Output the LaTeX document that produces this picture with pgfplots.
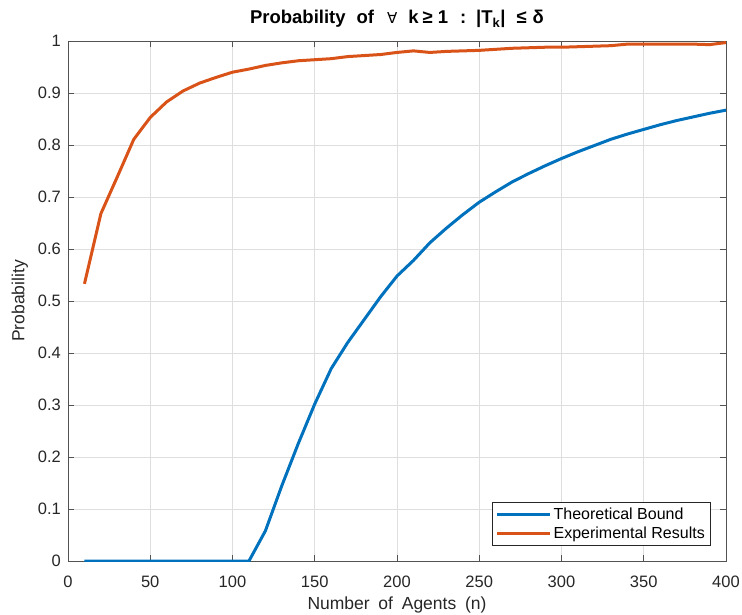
\documentclass[border=0pt]{standalone}
\usepackage{pgfplots}
\pgfplotsset{compat=1.18}
\usepackage{fontspec}
\setmainfont{Liberation Sans}
\newfontfamily\dejavu{DejaVu Sans}

\definecolor{mblue}{rgb}{0,0.447,0.741}
\definecolor{morange}{rgb}{0.85,0.325,0.098}
\definecolor{axgray}{rgb}{0.15,0.15,0.15}

\begin{document}
\begin{tikzpicture}
  \begin{axis}[
      scale only axis,
      width=658pt, height=520pt,
      xmin=0, xmax=400, ymin=0, ymax=1,
      xtick={0,50,...,400},
      ytick={0,0.1,...,1},
      yticklabels={0,0.1,0.2,0.3,0.4,0.5,0.6,0.7,0.8,0.9,1},
      /pgf/number format/assume math mode=true,
      tick label style={font=\fontsize{16.5}{18}\selectfont, text=axgray},
      xticklabel style={anchor=base, yshift=-26pt, inner sep=0pt},
      yticklabel style={anchor=east, xshift=-7pt, inner sep=0pt},
      axis line style={draw=axgray!80, line width=0.6pt},
      tick style={draw=axgray!80, line width=0.6pt},
      tick align=inside,
      major tick length=6pt,
      grid=major,
      major grid style={draw=black!13, line width=0.6pt},
      title={\bfseries Probability\hspace{11pt}of\hspace{13pt}{\dejavu\mdseries\fontsize{15}{16}\selectfont ∀}\hspace{11pt}k\hspace{4pt}≥\hspace{5pt}1\hspace{12pt}:\hspace{10pt}|T\textsubscript{k}|\hspace{11pt}≤\hspace{6pt}δ},
      title style={font=\fontsize{18.5}{20}\selectfont, at={(axis description cs:0.5,1.0212)}, anchor=base, inner sep=0pt},
      xlabel={Number\hspace{0.5em}of\hspace{0.5em}Agents\hspace{0.5em}(n)},
      xlabel style={font=\fontsize{17.5}{20}\selectfont, text=axgray, at={(axis description cs:0.5,-0.0942)}, anchor=base, inner sep=0pt},
      ylabel={Probability},
      ylabel style={font=\fontsize{17.5}{20}\selectfont, text=axgray, at={(axis description cs:-0.073,0.5)}, anchor=center, rotate=0, inner sep=0pt},
      legend style={at={(axis description cs:0.9757,0.0308)}, anchor=south east,
        font=\fontsize{16}{18}\selectfont, draw=axgray,
        inner xsep=3pt, inner ysep=3pt, row sep=2pt},
      legend cell align=left,
      legend image code/.code={\draw[#1, line width=3pt] (0pt,0pt) -- (53pt,0pt);},
    ]
    \addplot[mblue, line width=3pt] coordinates {
      (10,0) (20,0) (30,0) (40,0) (50,0) (60,0) (70,0) (80,0) (90,0) (100,0)
      (110,0) (120,0.058) (130,0.145) (140,0.226) (150,0.302) (160,0.370)
      (170,0.420) (180,0.464) (190,0.508) (200,0.548) (210,0.578) (220,0.612)
      (230,0.640) (240,0.666) (250,0.690) (260,0.710) (270,0.729) (280,0.745)
      (290,0.760) (300,0.774) (310,0.787) (320,0.799) (330,0.811) (340,0.821)
      (350,0.830) (360,0.839) (370,0.847) (380,0.854) (390,0.861) (400,0.867)
    };
    \addlegendentry{Theoretical Bound}
    \addplot[morange, line width=3pt] coordinates {
      (10,0.533) (20,0.668) (30,0.739) (40,0.811) (50,0.853) (60,0.883)
      (70,0.904) (80,0.919) (90,0.930) (100,0.940) (110,0.946) (120,0.953)
      (130,0.958) (140,0.962) (150,0.964) (160,0.966) (170,0.970) (180,0.972)
      (190,0.974) (200,0.978) (210,0.981) (220,0.978) (230,0.980) (240,0.981)
      (250,0.982) (260,0.984) (270,0.986) (280,0.987) (290,0.988) (300,0.988)
      (310,0.989) (320,0.990) (330,0.991) (340,0.994) (350,0.994) (360,0.994)
      (370,0.994) (380,0.994) (390,0.993) (400,0.997)
    };
    \addlegendentry{Experimental Results}
  \end{axis}
  \pgfresetboundingbox
  \path ([shift={(-68pt,-53pt)}]current axis.south west) rectangle ([shift={(16pt,41pt)}]current axis.north east);
\end{tikzpicture}
\end{document}
